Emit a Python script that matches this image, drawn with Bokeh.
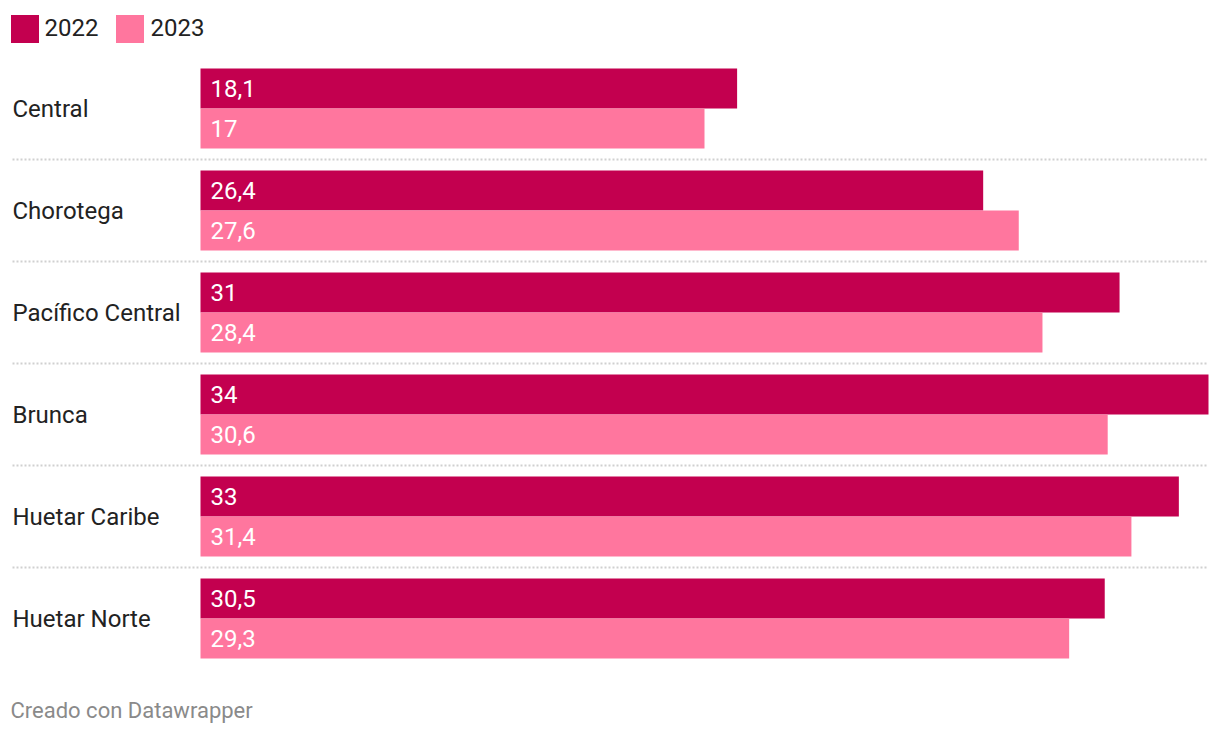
from bokeh.plotting import figure
from bokeh.models import ColumnDataSource, Range1d, Legend, LegendItem, Label
from bokeh.transform import dodge
from bokeh.core.properties import value
from bokeh.embed import file_html
from bokeh.resources import INLINE

regions = ["Central", "Chorotega", "Pacífico Central", "Brunca", "Huetar Caribe", "Huetar Norte"]
v2022 = [18.1, 26.4, 31.0, 34.0, 33.0, 30.5]
v2023 = [17.0, 27.6, 28.4, 30.6, 31.4, 29.3]
series = ["2022", "2023"]
colors = ["#C3004F", "#FF769E"]

def fmt(v):
    s = ("%.1f" % v).rstrip("0").rstrip(".")
    return s.replace(".", ",")

W, H = 1212, 728
bar_left_px = 200
bar_span_px = 1008
scale = bar_span_px / max(v2022)
row_px = 102
first_row_px = 108

n = len(regions)
pos = list(range(n))  # row index, top to bottom

src = ColumnDataSource(dict(
    region=regions, pos=pos, v2022=v2022, v2023=v2023,
    l2022=[fmt(v) for v in v2022], l2023=[fmt(v) for v in v2023],
    zero=[0] * n,
))

p = figure(width=W, height=H, output_backend="svg", toolbar_location=None,
           y_range=Range1d((H - first_row_px) / row_px, -first_row_px / row_px),
           x_range=Range1d(-bar_left_px / scale, (W - bar_left_px) / scale),
           min_border_left=0, min_border_right=0, min_border_top=0, min_border_bottom=0)
p.axis.visible = False
p.grid.visible = False
p.outline_line_color = None
p.background_fill_color = "white"
p.border_fill_color = "white"

off = 20 / row_px
bh = 40 / row_px

r1 = p.hbar(y=dodge("pos", -off), left=0, right="v2022", height=bh,
            source=src, color=colors[0], line_color=None)
r2 = p.hbar(y=dodge("pos", off), left=0, right="v2023", height=bh,
            source=src, color=colors[1], line_color=None)

fs = "24px"
p.text(x="zero", y=dodge("pos", -off), text="l2022", source=src,
       x_offset=10, text_color="white", text_font=value("Roboto"), text_font_size=fs,
       text_baseline="middle", text_align="left")
p.text(x="zero", y=dodge("pos", off), text="l2023", source=src,
       x_offset=10, text_color="white", text_font=value("Roboto"), text_font_size=fs,
       text_baseline="middle", text_align="left")
p.text(x="zero", y="pos", text="region", source=src, x_offset=-188,
       text_color="#222222", text_font=value("Roboto"), text_font_size=fs,
       text_baseline="middle", text_align="left")

# dotted separators between categories
sep_y = [i + 0.5 for i in range(n - 1)]
p.segment(x0=[-188 / scale] * (n - 1), x1=[max(v2022)] * (n - 1), y0=sep_y, y1=sep_y,
          line_color="#d0d0d0", line_width=2, line_dash="2 2")

legend = Legend(items=[LegendItem(label=series[0], renderers=[r1]),
                       LegendItem(label=series[1], renderers=[r2])],
                location=(6.5, H - 45.5), orientation="horizontal",
                glyph_width=35, glyph_height=35, label_text_font_size=fs,
                label_text_font="Roboto", label_text_color="#222222",
                label_standoff=3, spacing=14, padding=0, margin=0,
                border_line_color=None, background_fill_alpha=0,
                label_height=35)
p.add_layout(legend, "center")

p.add_layout(Label(x=10, y=H - 710, x_units="screen", y_units="screen",
                   text="Creado con Datawrapper", text_font="Roboto",
                   text_font_size="22px", text_color="#8a8a8a",
                   text_baseline="alphabetic"))

open("out.html", "w").write(file_html(p, INLINE))
